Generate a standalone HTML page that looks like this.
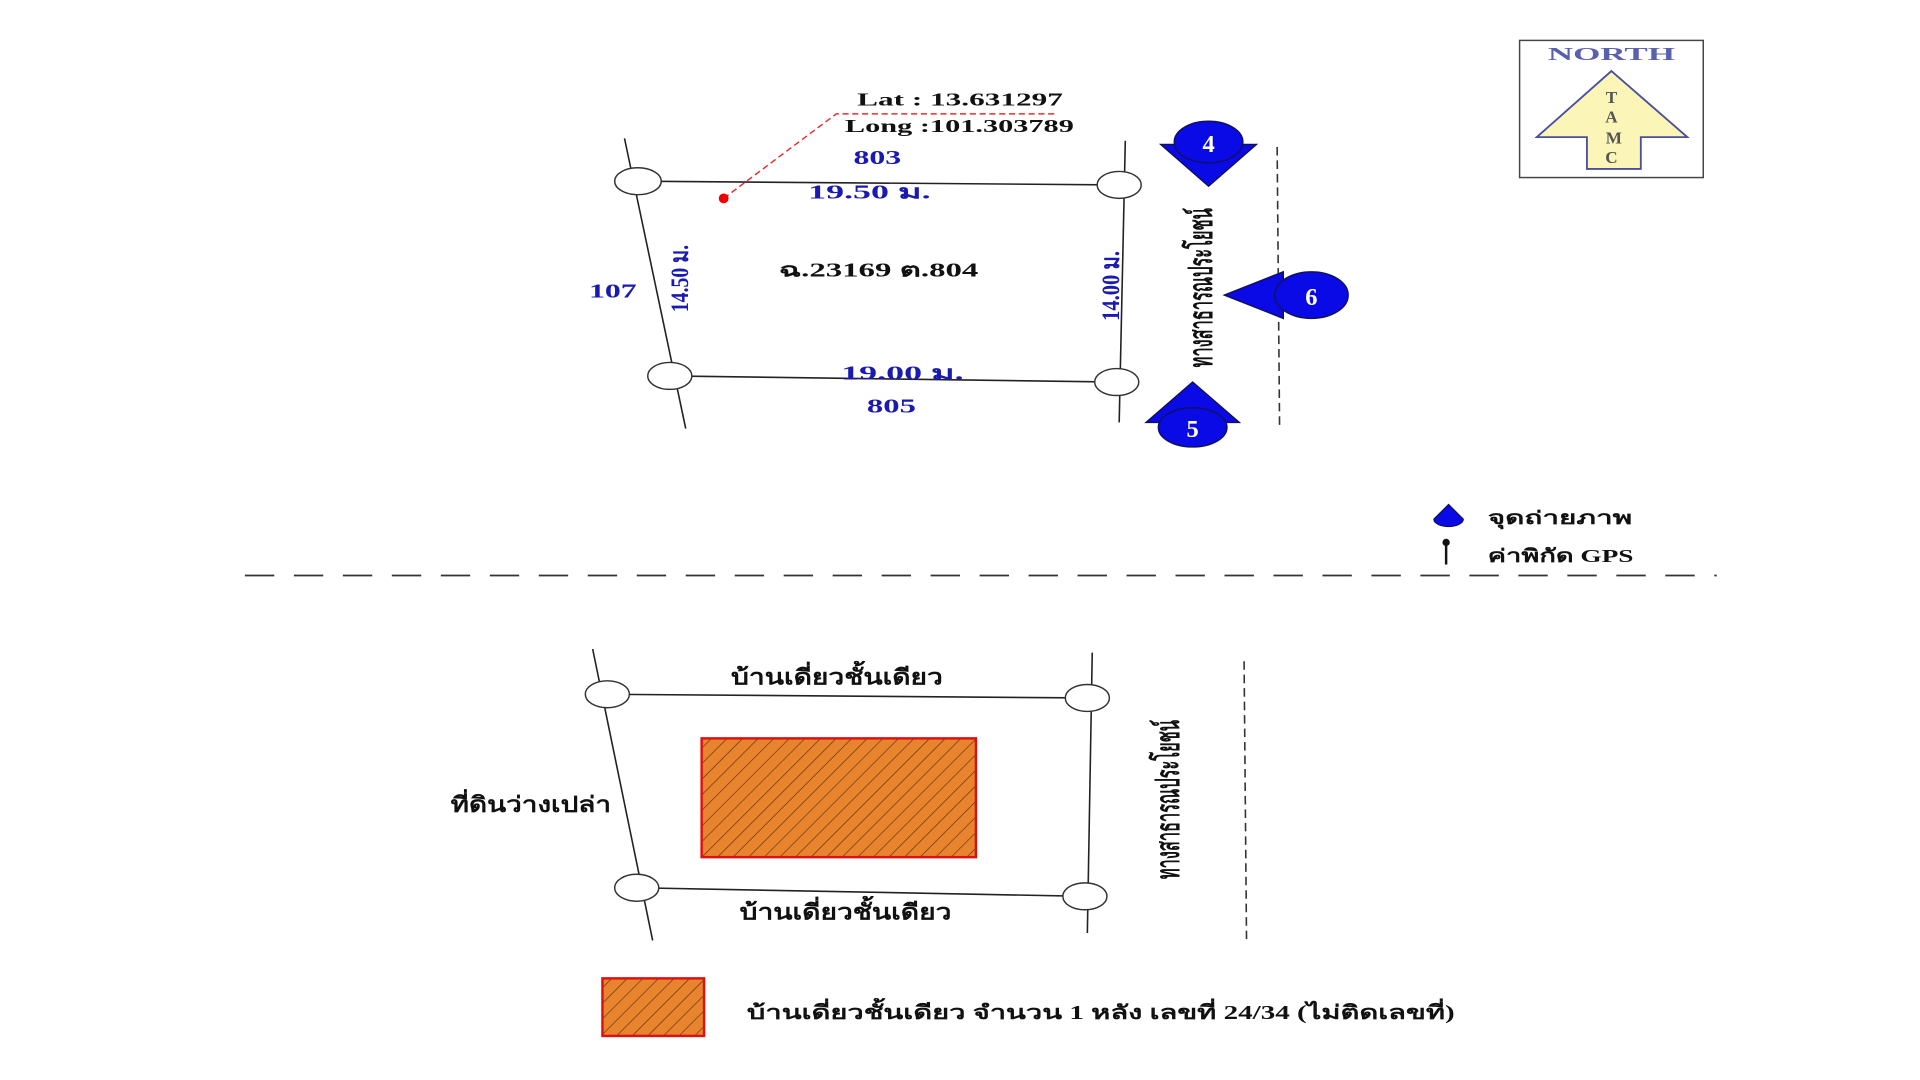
<!DOCTYPE html>
<html><head><meta charset="utf-8"><style>
html,body{margin:0;padding:0;background:#fff;width:1920px;height:1080px;overflow:hidden}
svg{display:block}
text{font-family:"Liberation Serif","Noto Serif CJK SC","Noto Sans CJK SC",serif;font-weight:bold}
</style></head><body>
<svg width="1920" height="1080" viewBox="0 0 1568 882" xmlns="http://www.w3.org/2000/svg">
<defs>
<pattern id="h" width="9" height="9" patternUnits="userSpaceOnUse" patternTransform="rotate(45)">
<rect width="9" height="9" fill="#E8842E"/><line x1="0" y1="0" x2="0" y2="9" stroke="#5a2a10" stroke-width="1"/>
</pattern>
</defs>
<!-- North box -->
<rect x="1241" y="33" width="150" height="112" fill="#fff" stroke="#444" stroke-width="1.2"/>
<text x="1264" y="49" font-size="15" fill="#5a5fae" textLength="104" lengthAdjust="spacingAndGlyphs">NORTH</text>
<polygon points="1316,58 1378,112 1340,112 1340,138 1296,138 1296,112 1255,112" fill="#fbf6b8" stroke="#4a4f9e" stroke-width="1.5"/>
<g font-size="14" fill="#555" text-anchor="middle"><text x="1316" y="84">T</text><text x="1316" y="100">A</text><text x="1318" y="117">M</text><text x="1316" y="133">C</text></g>

<!-- top plot -->
<g stroke="#222" stroke-width="1.3" fill="none">
<line x1="510" y1="113" x2="560" y2="350"/>
<line x1="919" y1="115" x2="914" y2="345"/>
<line x1="521" y1="148" x2="914" y2="151"/>
<line x1="547" y1="307" x2="912" y2="312"/>
</g>
<g fill="#fff" stroke="#333" stroke-width="1.2">
<ellipse cx="521" cy="148" rx="19" ry="11"/><ellipse cx="914" cy="151" rx="18" ry="11"/>
<ellipse cx="547" cy="307" rx="18" ry="11"/><ellipse cx="912" cy="312" rx="18" ry="11"/>
</g>
<polyline points="591,162 683,93 862,93" fill="none" stroke="#e03030" stroke-width="1.2" stroke-dasharray="5,3"/>
<circle cx="591" cy="162" r="4" fill="#e00"/>
<text x="700" y="86" font-size="15" fill="#111" textLength="168" lengthAdjust="spacingAndGlyphs">Lat :  13.631297</text>
<text x="690" y="108" font-size="15" fill="#111" textLength="187" lengthAdjust="spacingAndGlyphs">Long :101.303789</text>
<g fill="#1a1ab0" font-size="16">
<text x="697" y="134" textLength="39" lengthAdjust="spacingAndGlyphs">803</text>
<text x="660" y="162" textLength="100" lengthAdjust="spacingAndGlyphs">19.50  ม.</text>
<text x="481" y="243" textLength="39" lengthAdjust="spacingAndGlyphs">107</text>
<text x="687" y="310" textLength="100" lengthAdjust="spacingAndGlyphs">19.00  ม.</text>
<text x="708" y="337" textLength="40" lengthAdjust="spacingAndGlyphs">805</text>
<text transform="translate(562,255) rotate(-90)" font-size="21" textLength="55" lengthAdjust="spacingAndGlyphs">14.50 ม.</text>
<text transform="translate(914,262) rotate(-90)" font-size="21" textLength="57" lengthAdjust="spacingAndGlyphs">14.00 ม.</text>
</g>
<text x="636" y="226" font-size="16" fill="#111" textLength="163" lengthAdjust="spacingAndGlyphs">ฉ.23169 ต.804</text>
<text transform="translate(990,300) rotate(-90)" font-size="27" fill="#111" textLength="130" lengthAdjust="spacingAndGlyphs">ทางสาธารณประโยชน์</text>
<line x1="1043" y1="120" x2="1045" y2="350" stroke="#333" stroke-width="1.3" stroke-dasharray="7,4"/>
<!-- markers -->
<g fill="#0a0ae6" stroke="#101060" stroke-width="1.2">
<polygon points="948,118 1026,118 987,152"/><ellipse cx="987" cy="116" rx="28" ry="17"/>
<polygon points="1000,241 1048,222 1048,260"/><ellipse cx="1071" cy="241" rx="30" ry="19"/>
<polygon points="974,312 936,345 1012,345"/><ellipse cx="974" cy="349" rx="28" ry="16"/>
</g>
<g fill="#fff" font-size="20" text-anchor="middle" style="font-family:'Liberation Sans',sans-serif">
<text x="987" y="124">4</text><text x="1071" y="249">6</text><text x="974" y="357">5</text>
</g>
<!-- legend -->
<path d="M1183,412 L1195,424 A12,6 0 0 1 1171,424 Z" fill="#0a0ae6" stroke="#101060"/>
<text x="1215" y="428" font-size="15" fill="#111" textLength="118" lengthAdjust="spacingAndGlyphs">จุดถ่ายภาพ</text>
<line x1="1181" y1="443" x2="1181" y2="461" stroke="#111" stroke-width="2"/><circle cx="1181" cy="443" r="3" fill="#111"/>
<text x="1215" y="459" font-size="15" fill="#111" textLength="119" lengthAdjust="spacingAndGlyphs">ค่าพิกัด GPS</text>
<line x1="200" y1="470" x2="1402" y2="470" stroke="#333" stroke-width="1.5" stroke-dasharray="24,16"/>

<!-- bottom plot -->
<g stroke="#222" stroke-width="1.3" fill="none">
<line x1="484" y1="530" x2="533" y2="768"/>
<line x1="892" y1="533" x2="888" y2="762"/>
<line x1="496" y1="567" x2="888" y2="570"/>
<line x1="520" y1="725" x2="886" y2="732"/>
</g>
<g fill="#fff" stroke="#333" stroke-width="1.2">
<ellipse cx="496" cy="567" rx="18" ry="11"/><ellipse cx="888" cy="570" rx="18" ry="11"/>
<ellipse cx="520" cy="725" rx="18" ry="11"/><ellipse cx="886" cy="732" rx="18" ry="11"/>
</g>
<rect x="573" y="603" width="224" height="97" fill="url(#h)" stroke="#e01010" stroke-width="2"/>
<g font-size="18" fill="#111">
<text x="597" y="559" textLength="173" lengthAdjust="spacingAndGlyphs">บ้านเดี่ยวชั้นเดียว</text>
<text x="604" y="751" textLength="173" lengthAdjust="spacingAndGlyphs">บ้านเดี่ยวชั้นเดียว</text>
<text x="368" y="663" textLength="131" lengthAdjust="spacingAndGlyphs">ที่ดินว่างเปล่า</text>
<text transform="translate(963,718) rotate(-90)" font-size="27" textLength="130" lengthAdjust="spacingAndGlyphs">ทางสาธารณประโยชน์</text>
<text x="610" y="832" font-size="16" textLength="578" lengthAdjust="spacingAndGlyphs">บ้านเดี่ยวชั้นเดียว  จำนวน 1 หลัง เลขที่ 24/34 (ไม่ติดเลขที่)</text>
</g>
<line x1="1016" y1="540" x2="1018" y2="768" stroke="#333" stroke-width="1.3" stroke-dasharray="7,4"/>
<rect x="492" y="799" width="83" height="47" fill="url(#h)" stroke="#e01010" stroke-width="2"/>
</svg>
</body></html>
